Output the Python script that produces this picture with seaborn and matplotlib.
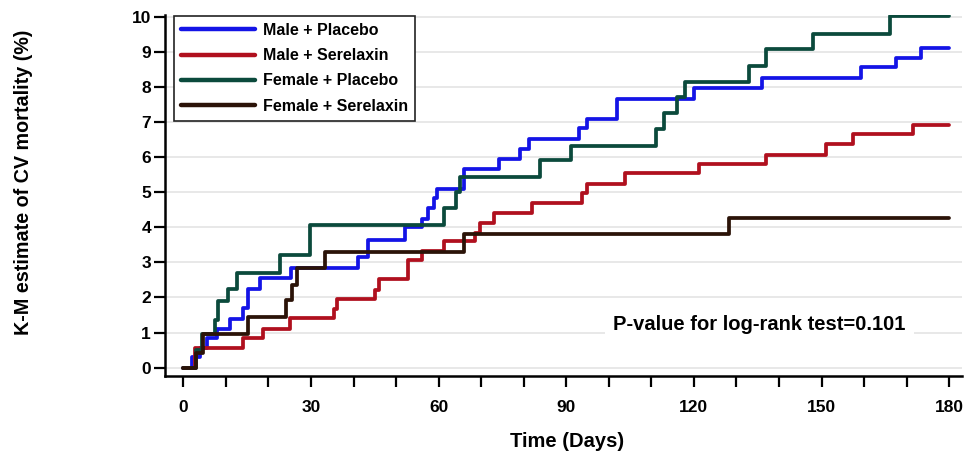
import matplotlib
matplotlib.use("Agg")
import matplotlib.pyplot as plt
import seaborn as sns
import pandas as pd

# K-M step curves (step-post)
groups = ["Male + Placebo", "Male + Serelaxin", "Female + Placebo", "Female + Serelaxin"]
colors = ["#1414e6", "#b0101e", "#0b4a3c", "#2b1308"]

male_placebo_t = [0, 2, 4, 5.5, 8, 11, 14, 15.2, 18, 25.3, 41, 43.5, 52, 56, 57.5, 58.8, 59.6,
                  65.9, 74.1, 79.2, 81.2, 92.9, 94.9, 102, 120, 136.1, 159.2, 167.5, 173.3, 180]
male_placebo_v = [0, 0.3, 0.55, 0.85, 1.1, 1.4, 1.7, 2.25, 2.55, 2.85, 3.15, 3.65, 4.0, 4.25, 4.55,
                  4.83, 5.1, 5.67, 5.95, 6.24, 6.51, 6.83, 7.09, 7.66, 7.97, 8.25, 8.57, 8.84, 9.13, 9.13]

male_serelaxin_t = [0, 2.8, 14.1, 18.8, 25.1, 35.3, 36.1, 45.0, 45.9, 52.9, 56.1, 61.2, 68.6, 69.8,
                    73, 82, 93.7, 94.9, 103.9, 121.2, 136.9, 151, 157.3, 171.4, 180]
male_serelaxin_v = [0, 0.56, 0.85, 1.1, 1.41, 1.68, 1.96, 2.22, 2.52, 3.08, 3.32, 3.61, 3.85, 4.12,
                    4.4, 4.69, 4.97, 5.25, 5.54, 5.81, 6.07, 6.37, 6.66, 6.92, 6.92]

female_placebo_t = [0, 3, 4.3, 7.5, 8.2, 10.6, 12.6, 22.8, 29.8, 61.2, 64.0, 65.0, 83.9, 91,
                    111, 113, 116.1, 118, 133, 136.9, 148.1, 166.1, 180]
female_placebo_v = [0, 0.5, 0.95, 1.37, 1.89, 2.23, 2.7, 3.22, 4.07, 4.55, 5.0, 5.45, 5.93, 6.32,
                    6.8, 7.27, 7.73, 8.16, 8.6, 9.08, 9.53, 10.03, 10.03]

female_serelaxin_t = [0, 3.1, 4.7, 15.1, 24.1, 25.5, 26.7, 33.3, 65.9, 128.2, 180]
female_serelaxin_v = [0, 0.43, 0.95, 1.45, 1.92, 2.36, 2.84, 3.3, 3.8, 4.28, 4.28]

x_ticks = list(range(0, 181, 10))
x_tick_labels = [str(t) if t % 30 == 0 else "" for t in x_ticks]
y_ticks = list(range(0, 11))

series = [(male_placebo_t, male_placebo_v), (male_serelaxin_t, male_serelaxin_v),
          (female_placebo_t, female_placebo_v), (female_serelaxin_t, female_serelaxin_v)]
frames = []
for name, (t, v) in zip(groups, series):
    frames.append(pd.DataFrame({"time": t, "km": v, "group": name}))
df = pd.concat(frames, ignore_index=True)

sns.set_style("white")
plt.rcParams["font.family"] = ["Liberation Sans", "DejaVu Sans"]
plt.rcParams["font.weight"] = "bold"
plt.rcParams["text.color"] = "black"
plt.rcParams["axes.labelcolor"] = "black"

fig = plt.figure(figsize=(9.73, 4.58), dpi=100)
ax = fig.add_axes([165 / 973, 82 / 458, 797 / 973, 361 / 458])

sns.lineplot(data=df, x="time", y="km", hue="group", hue_order=groups,
             palette=colors, estimator=None, sort=False, drawstyle="steps-post",
             linewidth=2.7, ax=ax)

ax.set_xlim(-4.3, 183)
ax.set_ylim(-0.24, 10.06)
ax.set_xticks(x_ticks)
ax.set_xticklabels(x_tick_labels)
ax.set_yticks(y_ticks)
ax.tick_params(axis="both", which="major", direction="out", length=8, width=1.6,
               color="black", labelcolor="black", labelsize=12.5,
               bottom=True, left=True)
ax.tick_params(axis="y", pad=2)
ax.tick_params(axis="x", pad=9)
for lab in ax.get_xticklabels() + ax.get_yticklabels():
    lab.set_fontweight("bold")

for side in ["top", "right"]:
    ax.spines[side].set_visible(False)
for side in ["left", "bottom"]:
    ax.spines[side].set_linewidth(1.8)
    ax.spines[side].set_color("black")

ax.yaxis.grid(True, color="#e8e8e8", linewidth=1.4)
ax.set_axisbelow(True)

ax.set_xlabel("Time (Days)", fontsize=14.5, fontweight="bold")
ax.set_ylabel("K-M estimate of CV mortality (%)", fontsize=14.2, fontweight="bold")
ax.xaxis.set_label_coords(0.504, -0.155)
ax.yaxis.set_label_coords(-0.165, 0.536)

ax.text(101, 1.24, "P-value for log-rank test=0.101", fontsize=14.5, fontweight="bold",
        va="center", ha="left",
        bbox=dict(facecolor="white", edgecolor="none", pad=6))

handles, labels = ax.get_legend_handles_labels()
for h in handles:
    h.set_linewidth(3.2)
leg = ax.legend(handles, labels, loc="upper left", bbox_to_anchor=(0.0113, 0.998),
                borderaxespad=0, handlelength=4.6, handletextpad=0.5,
                labelspacing=0.64, fancybox=False, framealpha=1, edgecolor="#222222",
                borderpad=0.45, prop={"weight": "bold", "size": 11.5})
leg.get_frame().set_linewidth(1.2)

fig.savefig("out.png", dpi=100, facecolor="white")
